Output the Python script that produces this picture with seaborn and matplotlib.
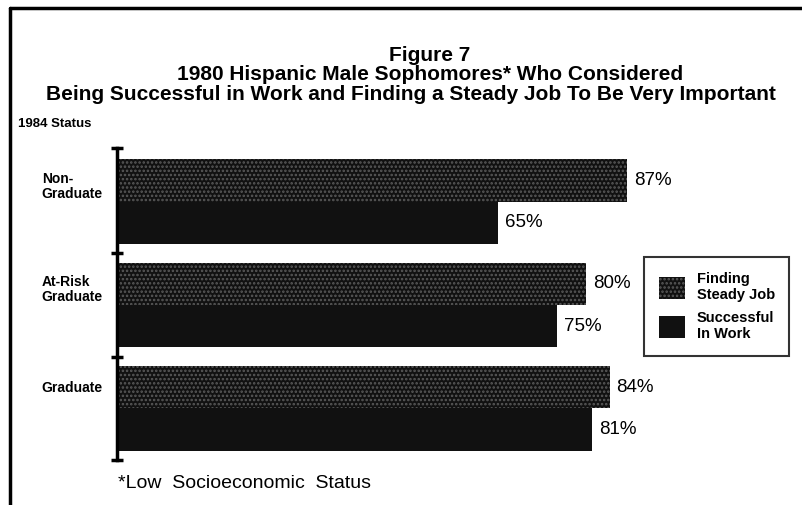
import pandas as pd
import numpy as np
import matplotlib.pyplot as plt
import matplotlib.transforms as mtransforms
from matplotlib.patches import Patch
from matplotlib.lines import Line2D
import seaborn as sns

# data
statuses = ["Non-Graduate", "At-Risk Graduate", "Graduate"]
status_labels = ["Non-\nGraduate", "At-Risk\nGraduate", "Graduate"]
steady_job = [87, 80, 84]
successful_work = [65, 75, 81]
measures = ["Finding\nSteady Job", "Successful\nIn Work"]

df = pd.DataFrame({
    "status": statuses * 2,
    "pct": steady_job + successful_work,
    "measure": [measures[0]] * 3 + [measures[1]] * 3,
})

sns.set_style("white")
plt.rcParams['font.family'] = ['Liberation Sans', 'DejaVu Sans']
plt.rcParams['text.color'] = 'black'
plt.rcParams['hatch.linewidth'] = 1.2

fig = plt.figure(figsize=(8.02, 5.05), dpi=100)
ax = fig.add_axes([0.146, 0.089, 0.731, 0.618])

sns.barplot(data=df, y="status", x="pct", hue="measure", orient="h",
            palette=["#111111", "#111111"], width=0.82, ax=ax, legend=False,
            saturation=1, linewidth=0)

# stippled texture on the "steady job" bars
for bar in ax.containers[0]:
    bar.set_hatch("....")
    bar.set_edgecolor("#5a5a5a")
    bar.set_linewidth(0)

for cont in ax.containers:
    ax.bar_label(cont, fmt="%d%%", padding=5, fontsize=13.5, color="black")

ax.set_xlim(0, 100)
ax.set_ylim(2.5, -0.52)
ax.set_yticks([-0.52, 0.5, 1.5, 2.5])
ax.set_yticklabels([])
ax.tick_params(axis="y", direction="inout", length=9, width=2.5, color="black", left=True)
ax.set_xticks([])
ax.set_xlabel("")
ax.set_ylabel("")
for s in ["top", "right", "bottom"]:
    ax.spines[s].set_visible(False)
ax.spines["left"].set_linewidth(2.5)
ax.spines["left"].set_color("black")

trans = mtransforms.blended_transform_factory(fig.transFigure, ax.transData)
for i, lab in enumerate(status_labels):
    off = -0.15 if "\n" in lab else -0.2
    ax.text(0.052, i + off, lab, transform=trans, ha="left", va="center",
            fontsize=10, fontweight="bold", linespacing=1.1)

# titles
fig.text(0.536, 0.891, "Figure 7", ha="center", va="center", fontsize=15, fontweight="bold")
fig.text(0.536, 0.853, "1980 Hispanic Male Sophomores* Who Considered",
         ha="center", va="center", fontsize=15, fontweight="bold")
fig.text(0.513, 0.813, "Being Successful in Work and Finding a Steady Job To Be Very Important",
         ha="center", va="center", fontsize=15, fontweight="bold")
fig.text(0.022, 0.754, "1984 Status", ha="left", va="center", fontsize=9.5, fontweight="bold")
fig.text(0.147, 0.042, "*Low  Socioeconomic  Status", ha="left", va="center", fontsize=14)

# legend
handles = [Patch(facecolor="#111111", edgecolor="#5a5a5a", hatch="....", linewidth=0),
           Patch(facecolor="#111111", linewidth=0)]
leg = fig.legend(handles, measures, loc="upper left", bbox_to_anchor=(0.794, 0.505),
                 frameon=True, fancybox=False, edgecolor="black",
                 handlelength=1.8, handleheight=2.0, borderpad=1.0, labelspacing=0.6,
                 handletextpad=0.8, prop={"weight": "bold", "size": 10.5})
leg.get_frame().set_linewidth(1.5)

# scan frame lines
fig.add_artist(Line2D([0.012, 1.0], [0.985, 0.985], color="black", lw=2.5, transform=fig.transFigure))
fig.add_artist(Line2D([0.012, 0.012], [0.0, 0.985], color="black", lw=2.5, transform=fig.transFigure))

fig.savefig("out.png", dpi=100)
